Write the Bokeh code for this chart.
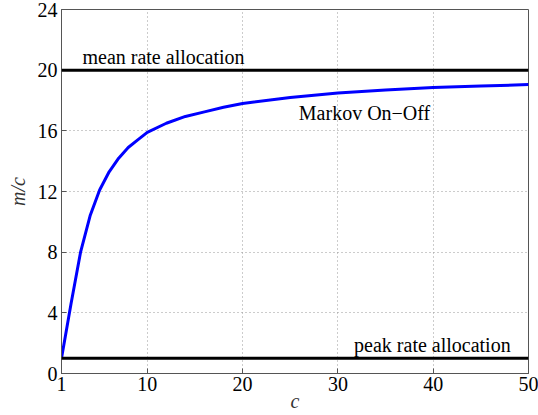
from bokeh.plotting import figure
from bokeh.models import Span, FixedTicker, Range1d
from bokeh.core.properties import value
from bokeh.embed import file_html
from bokeh.resources import INLINE

# data
c_vals = [1, 2, 3, 4, 5, 6, 7, 8, 9, 10, 12, 14, 16, 18, 20, 25, 30, 35, 40, 45, 50]
markov = [1.0, 4.6, 8.0, 10.4, 12.1, 13.3, 14.2, 14.9, 15.4, 15.9, 16.5, 16.95, 17.25,
          17.55, 17.8, 18.2, 18.5, 18.7, 18.85, 18.95, 19.05]
mean_rate = 20
peak_rate = 1
x_ticks = [1, 10, 20, 30, 40, 50]
y_ticks = [0, 4, 8, 12, 16, 20, 24]
x_label = "c"
y_label = "m/c"

FONT = "Liberation Serif"

p = figure(width=538, height=415, output_backend="svg", toolbar_location=None,
           x_range=Range1d(1, 50), y_range=Range1d(0, 24),
           min_border_left=61, min_border_right=10, min_border_top=9, min_border_bottom=42)

p.background_fill_color = "white"
p.border_fill_color = "white"
p.outline_line_color = "#555555"
p.outline_line_width = 1

for ax in (p.xaxis[0], p.yaxis[0]):
    ax.axis_line_color = "#555555"
    ax.major_tick_in = 5
    ax.major_tick_out = 0
    ax.minor_tick_line_color = None
    ax.major_tick_line_color = "#555555"
    ax.major_label_text_font = FONT
    ax.major_label_text_font_size = "20px"
    ax.major_label_text_color = "black"
    ax.axis_label_text_font = FONT
    ax.axis_label_text_font_size = "20px"
    ax.axis_label_text_font_style = "italic"
    ax.axis_label_text_color = "#333333"

p.xaxis[0].ticker = FixedTicker(ticks=x_ticks)
p.yaxis[0].ticker = FixedTicker(ticks=y_ticks)
p.xaxis[0].axis_label = x_label
p.yaxis[0].axis_label = y_label
p.xaxis[0].major_label_standoff = 3
p.yaxis[0].major_label_standoff = 4
p.xaxis[0].axis_label_standoff = -4
p.yaxis[0].axis_label_standoff = 6

for g in (p.xgrid[0], p.ygrid[0]):
    g.grid_line_color = "#999999"
    g.grid_line_dash = "1 3"
    g.grid_line_width = 1
p.xgrid[0].ticker = FixedTicker(ticks=x_ticks)
p.ygrid[0].ticker = FixedTicker(ticks=y_ticks)

p.add_layout(Span(location=mean_rate, dimension="width", line_color="black", line_width=3))
p.add_layout(Span(location=peak_rate, dimension="width", line_color="black", line_width=3))

p.line(c_vals, markov, line_color="#0000ff", line_width=3)

p.text(x=[3.2], y=[20.85], text=["mean rate allocation"], text_font=value(FONT),
       text_font_size="20px", text_baseline="middle", text_align="left", text_color="black")
p.text(x=[25.9], y=[17.2], text=["Markov On\u2212Off"], text_font=value(FONT),
       text_font_size="20px", text_baseline="middle", text_align="left", text_color="black")
p.text(x=[31.7], y=[1.85], text=["peak rate allocation"], text_font=value(FONT),
       text_font_size="20px", text_baseline="middle", text_align="left", text_color="black")

open("out.html", "w").write(file_html(p, INLINE))
